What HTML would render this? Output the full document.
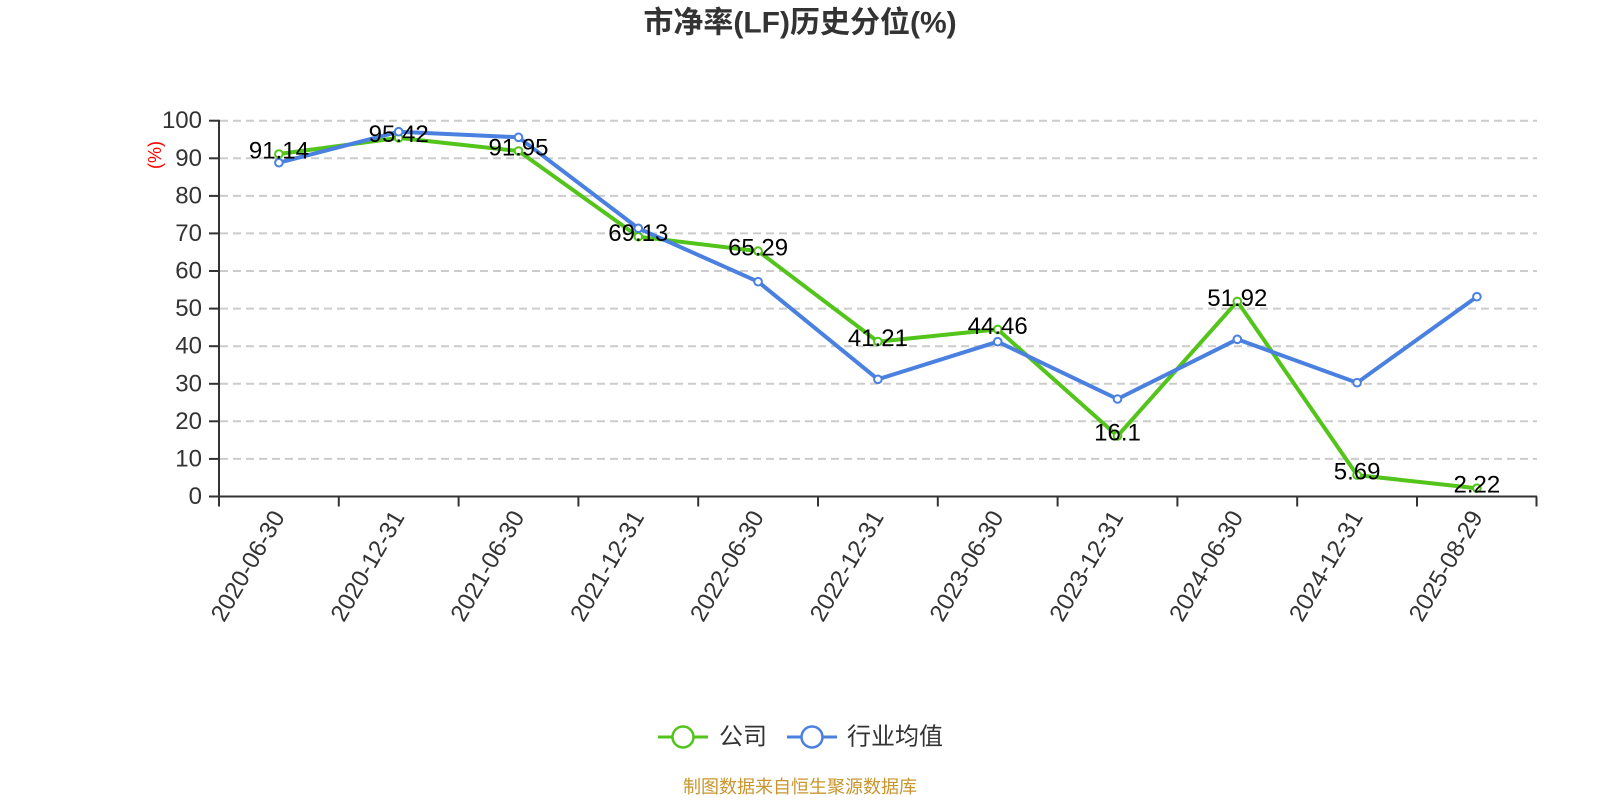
<!DOCTYPE html>
<html>
<head>
<meta charset="utf-8">
<style>
  html, body { margin: 0; padding: 0; background: #fff; }
  svg { display: block; }
  text { font-family: "Liberation Sans", "Noto Sans CJK SC", sans-serif; }
</style>
</head>
<body>
<svg width="1600" height="800" viewBox="0 0 1600 800" xmlns="http://www.w3.org/2000/svg">
  <rect width="1600" height="800" fill="#fff"/>
  <!-- Title -->
  <text x="800" y="23" text-anchor="middle" dominant-baseline="central" font-size="30" font-weight="bold" fill="#333">市净率(LF)历史分位(%)</text>

  <!-- Grid lines -->
  <g stroke="#ccc" stroke-width="2" stroke-dasharray="8,5">
    <line x1="220" y1="458.9" x2="1537" y2="458.9"/>
    <line x1="220" y1="421.3" x2="1537" y2="421.3"/>
    <line x1="220" y1="383.8" x2="1537" y2="383.8"/>
    <line x1="220" y1="346.2" x2="1537" y2="346.2"/>
    <line x1="220" y1="308.6" x2="1537" y2="308.6"/>
    <line x1="220" y1="271.0" x2="1537" y2="271.0"/>
    <line x1="220" y1="233.4" x2="1537" y2="233.4"/>
    <line x1="220" y1="195.9" x2="1537" y2="195.9"/>
    <line x1="220" y1="158.3" x2="1537" y2="158.3"/>
    <line x1="220" y1="120.7" x2="1537" y2="120.7"/>
  </g>

  <!-- Y axis -->
  <g stroke="#333" stroke-width="2">
    <line x1="219" y1="119.7" x2="219" y2="497.5"/>
    <line x1="209" y1="496.5" x2="219" y2="496.5"/>
    <line x1="209" y1="458.9" x2="219" y2="458.9"/>
    <line x1="209" y1="421.3" x2="219" y2="421.3"/>
    <line x1="209" y1="383.8" x2="219" y2="383.8"/>
    <line x1="209" y1="346.2" x2="219" y2="346.2"/>
    <line x1="209" y1="308.6" x2="219" y2="308.6"/>
    <line x1="209" y1="271.0" x2="219" y2="271.0"/>
    <line x1="209" y1="233.4" x2="219" y2="233.4"/>
    <line x1="209" y1="195.9" x2="219" y2="195.9"/>
    <line x1="209" y1="158.3" x2="219" y2="158.3"/>
    <line x1="209" y1="120.7" x2="219" y2="120.7"/>
  </g>
  <g font-size="24" fill="#333" text-anchor="end" dominant-baseline="central">
    <text x="202" y="496.5">0</text>
    <text x="202" y="458.9">10</text>
    <text x="202" y="421.3">20</text>
    <text x="202" y="383.8">30</text>
    <text x="202" y="346.2">40</text>
    <text x="202" y="308.6">50</text>
    <text x="202" y="271.0">60</text>
    <text x="202" y="233.4">70</text>
    <text x="202" y="195.9">80</text>
    <text x="202" y="158.3">90</text>
    <text x="202" y="120.7">100</text>
  </g>
  <text transform="translate(155,155) rotate(-90)" text-anchor="middle" dominant-baseline="central" font-size="18" fill="#ff0000">(%)</text>

  <!-- X axis -->
  <g stroke="#333" stroke-width="2">
    <line x1="218" y1="496.5" x2="1537" y2="496.5"/>
    <line x1="219" y1="496.5" x2="219" y2="506.5"/>
    <line x1="338.8" y1="496.5" x2="338.8" y2="506.5"/>
    <line x1="458.6" y1="496.5" x2="458.6" y2="506.5"/>
    <line x1="578.4" y1="496.5" x2="578.4" y2="506.5"/>
    <line x1="698.2" y1="496.5" x2="698.2" y2="506.5"/>
    <line x1="818" y1="496.5" x2="818" y2="506.5"/>
    <line x1="937.8" y1="496.5" x2="937.8" y2="506.5"/>
    <line x1="1057.6" y1="496.5" x2="1057.6" y2="506.5"/>
    <line x1="1177.4" y1="496.5" x2="1177.4" y2="506.5"/>
    <line x1="1297.2" y1="496.5" x2="1297.2" y2="506.5"/>
    <line x1="1417" y1="496.5" x2="1417" y2="506.5"/>
    <line x1="1536.5" y1="496.5" x2="1536.5" y2="506.5"/>
  </g>
  <g font-size="24" fill="#333" text-anchor="end" dominant-baseline="central">
    <text transform="translate(278.9,513) rotate(-60)">2020-06-30</text>
    <text transform="translate(398.7,513) rotate(-60)">2020-12-31</text>
    <text transform="translate(518.5,513) rotate(-60)">2021-06-30</text>
    <text transform="translate(638.3,513) rotate(-60)">2021-12-31</text>
    <text transform="translate(758.1,513) rotate(-60)">2022-06-30</text>
    <text transform="translate(877.9,513) rotate(-60)">2022-12-31</text>
    <text transform="translate(997.7,513) rotate(-60)">2023-06-30</text>
    <text transform="translate(1117.5,513) rotate(-60)">2023-12-31</text>
    <text transform="translate(1237.3,513) rotate(-60)">2024-06-30</text>
    <text transform="translate(1357.1,513) rotate(-60)">2024-12-31</text>
    <text transform="translate(1476.9,513) rotate(-60)">2025-08-29</text>
  </g>

  <!-- Company series (green) -->
  <polyline fill="none" stroke="#52c41a" stroke-width="4" stroke-linejoin="round"
    points="278.9,154.0 398.7,137.9 518.5,151.0 638.3,236.7 758.1,251.1 877.9,341.6 997.7,329.4 1117.5,436.0 1237.3,301.4 1357.1,475.1 1476.9,488.2"/>
  <g fill="#fff" stroke="#52c41a" stroke-width="2">
    <circle cx="278.9" cy="154.0" r="3.8"/>
    <circle cx="398.7" cy="137.9" r="3.8"/>
    <circle cx="518.5" cy="151.0" r="3.8"/>
    <circle cx="638.3" cy="236.7" r="3.8"/>
    <circle cx="758.1" cy="251.1" r="3.8"/>
    <circle cx="877.9" cy="341.6" r="3.8"/>
    <circle cx="997.7" cy="329.4" r="3.8"/>
    <circle cx="1117.5" cy="436.0" r="3.8"/>
    <circle cx="1237.3" cy="301.4" r="3.8"/>
    <circle cx="1357.1" cy="475.1" r="3.8"/>
    <circle cx="1476.9" cy="488.2" r="3.8"/>
  </g>

  <!-- Industry series (blue) -->
  <polyline fill="none" stroke="#4a80e0" stroke-width="4" stroke-linejoin="round"
    points="278.9,162.7 398.7,131.7 518.5,137.3 638.3,228.3 758.1,281.7 877.9,379.3 997.7,341.7 1117.5,399.0 1237.3,339.3 1357.1,382.7 1476.9,296.7"/>
  <g fill="#fff" stroke="#4a80e0" stroke-width="2">
    <circle cx="278.9" cy="162.7" r="3.8"/>
    <circle cx="398.7" cy="131.7" r="3.8"/>
    <circle cx="518.5" cy="137.3" r="3.8"/>
    <circle cx="638.3" cy="228.3" r="3.8"/>
    <circle cx="758.1" cy="281.7" r="3.8"/>
    <circle cx="877.9" cy="379.3" r="3.8"/>
    <circle cx="997.7" cy="341.7" r="3.8"/>
    <circle cx="1117.5" cy="399.0" r="3.8"/>
    <circle cx="1237.3" cy="339.3" r="3.8"/>
    <circle cx="1357.1" cy="382.7" r="3.8"/>
    <circle cx="1476.9" cy="296.7" r="3.8"/>
  </g>

  <!-- Data labels -->
  <g font-size="24" fill="#000" text-anchor="middle" dominant-baseline="central">
    <text x="278.9" y="151">91.14</text>
    <text x="398.7" y="134.5">95.42</text>
    <text x="518.5" y="148">91.95</text>
    <text x="638.3" y="233.5">69.13</text>
    <text x="758.1" y="248">65.29</text>
    <text x="877.9" y="338.5">41.21</text>
    <text x="997.7" y="326.5">44.46</text>
    <text x="1117.5" y="433">16.1</text>
    <text x="1237.3" y="298.5">51.92</text>
    <text x="1357.1" y="472">5.69</text>
    <text x="1476.9" y="485">2.22</text>
  </g>

  <!-- Legend -->
  <line x1="658" y1="737" x2="708" y2="737" stroke="#52c41a" stroke-width="3"/>
  <circle cx="683" cy="737" r="10.5" fill="#fff" stroke="#52c41a" stroke-width="2.5"/>
  <text x="719" y="737" font-size="24" fill="#333" dominant-baseline="central">公司</text>
  <line x1="787" y1="737" x2="837" y2="737" stroke="#4a80e0" stroke-width="3"/>
  <circle cx="812" cy="737" r="10.5" fill="#fff" stroke="#4a80e0" stroke-width="2.5"/>
  <text x="847" y="737" font-size="24" fill="#333" dominant-baseline="central">行业均值</text>

  <!-- Footer -->
  <text x="800" y="787" text-anchor="middle" dominant-baseline="central" font-size="18" fill="#c8952e">制图数据来自恒生聚源数据库</text>
</svg>
</body>
</html>
